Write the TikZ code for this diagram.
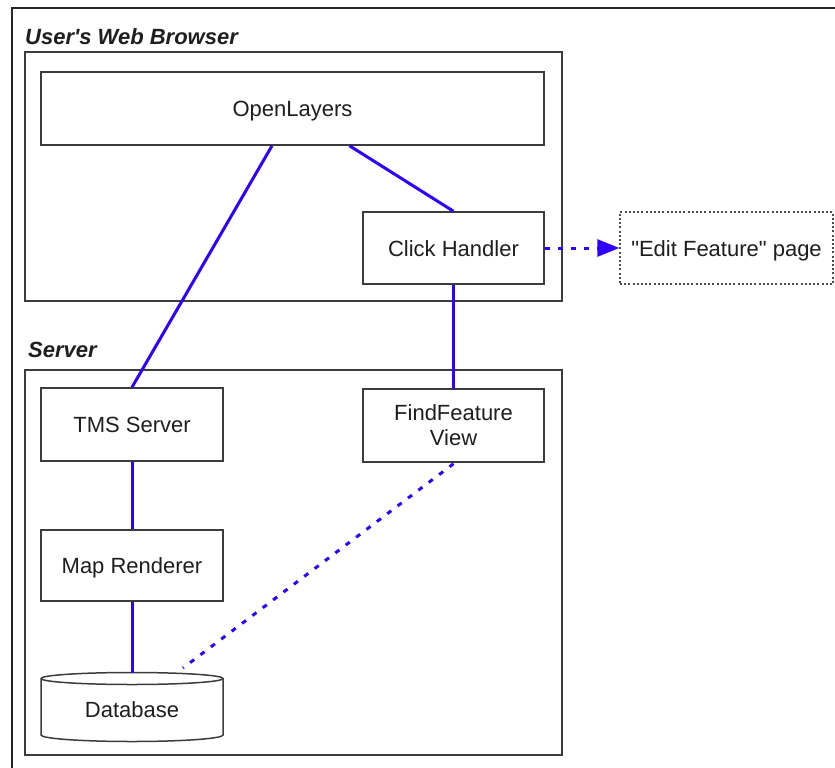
\documentclass[tikz,border=0pt]{standalone}
\usepackage{fontspec}
\setmainfont{Liberation Sans}[Ligatures=TeXOff]
\usetikzlibrary{arrows.meta,calc}
\definecolor{linkblue}{RGB}{45,0,255}
\definecolor{boxgray}{RGB}{60,60,60}
\definecolor{txt}{RGB}{30,30,30}
\tikzset{
  boxline/.style={draw=boxgray, line width=1.5pt},
  compbox/.style={boxline, rectangle, inner sep=0pt, font=\fontsize{22}{26}\selectfont, text=txt, align=center},
  oneline/.style={text height=16pt, text depth=0pt},
  grpbox/.style={boxline, rectangle, inner sep=0pt},
  grplabel/.style={anchor=base west, inner sep=0pt, font=\fontsize{22}{26}\selectfont\bfseries\itshape, text=txt},
  link/.style={draw=linkblue, line width=3pt},
  dottedlink/.style={draw=linkblue, line width=3pt, dash pattern=on 5pt off 8pt},
}
\begin{document}
\begin{tikzpicture}[x=1pt,y=-1pt]
\useasboundingbox (0,0) rectangle (835,768);
\fill[white] (0,0) rectangle (835,768);
% outer frame (cropped)
\draw[draw=black!85, line width=2pt] (12,768) -- (12,8) -- (835,8);
% groups
\node[grpbox, minimum width=537pt, minimum height=249pt] (browser) at (293.5,176.5) {};
\node[grpbox, minimum width=537pt, minimum height=385pt] (server) at (293.5,562.5) {};
\node[grplabel] (browserlbl) at (25,45) {User's Web Browser};
\node[grplabel] (serverlbl) at (28,357) {Server};
% components
\node[compbox, oneline, minimum width=503pt, minimum height=73pt] (ol) at (292.5,108.5) {OpenLayers};
\node[compbox, oneline, minimum width=181pt, minimum height=72pt] (ch) at (453.5,248) {Click Handler};
\node[compbox, oneline, draw=black!70, dash pattern=on 2pt off 2.2pt, minimum width=213pt, minimum height=72pt] (ef) at (726.5,248) {"Edit Feature" page};
\node[compbox, oneline, minimum width=182pt, minimum height=73pt] (tms) at (132,424.5) {TMS Server};
\node[compbox, minimum width=181pt, minimum height=73pt] (ffv) at (453.5,425.5) {FindFeature\\[-1pt]View};
\node[compbox, oneline, minimum width=182pt, minimum height=71pt] (mr) at (132,565.5) {Map Renderer};
% database cylinder
\draw[boxline, fill=white] (41,678.5) -- (41,735) arc[start angle=180, end angle=0, x radius=91, y radius=6.5] -- (223,678.5) arc[start angle=360, end angle=180, x radius=91, y radius=6] -- cycle;
\draw[boxline] (41,678.5) arc[start angle=180, end angle=0, x radius=91, y radius=6];
\node[rectangle, oneline, inner sep=0pt, minimum width=182pt, minimum height=70pt, font=\fontsize{22}{26}\selectfont, text=txt] (db) at (132,709) {Database};
\coordinate (dbr) at (183,668);
% connectors
\draw[link] ([xshift=-20.5pt]ol.south) -- (tms.north);
\draw[link] ([xshift=57pt]ol.south) -- (ch.north);
\draw[link] (ch.south) -- ([yshift=-1pt]ffv.north);
\draw[link] (tms.south) -- (mr.north);
\draw[link] (mr.south) -- (132,672.5);
\draw[dottedlink] ([yshift=-1pt]ffv.south) -- (dbr);
\draw[dottedlink, -{Triangle[length=22pt,width=17pt]}] (ch.east) -- (ef.west);
\end{tikzpicture}
\end{document}
